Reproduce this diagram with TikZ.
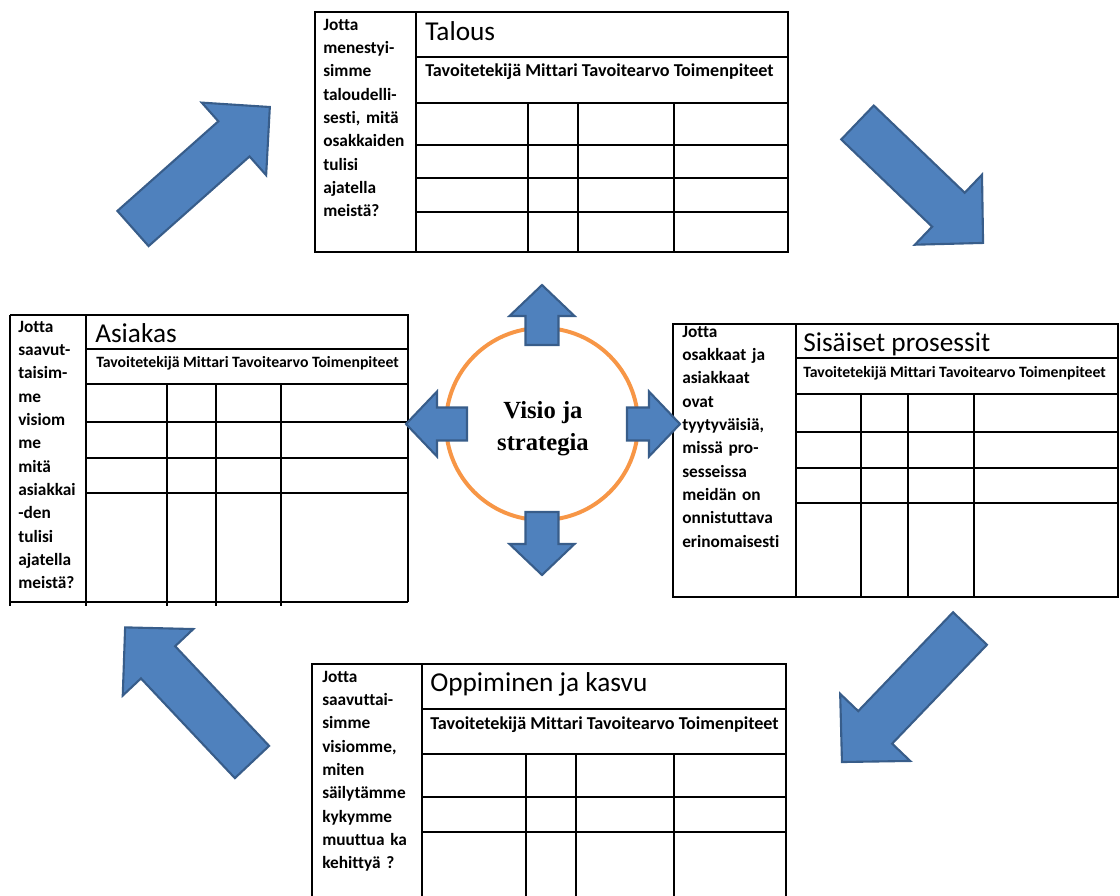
\documentclass[tikz,border=0pt]{standalone}
\usepackage{fontspec}
\setmainfont{Carlito}[Ligatures=CommonOff]
\newfontfamily\visiofont{Liberation Serif}
\usepackage{tikz}
\definecolor{arrowblue}{RGB}{79,129,189}
\definecolor{arrowedge}{RGB}{56,93,138}
\definecolor{visioorange}{RGB}{247,150,70}
\frenchspacing

\begin{document}
\begin{tikzpicture}[x=0.025cm,y=-0.025cm,
  tabline/.style={line width=1.3pt},
  blockarrow/.style={fill=arrowblue,draw=arrowedge,line width=1.5pt,line join=miter},
  question/.style={anchor=base west,inner sep=0pt,text width=3cm,align=left,font=\fontsize{12.3}{16.6}\selectfont\bfseries},
  boxtitle/.style={anchor=base west,inner sep=0pt,font=\fontsize{19.4}{23}\selectfont},
  boxhead/.style={anchor=base west,inner sep=0pt,font=\fontsize{12.9}{15}\selectfont\bfseries},
  smallhead/.style={anchor=base west,inner sep=0pt,font=\fontsize{11.2}{13}\selectfont\bfseries}]

\useasboundingbox (0,0) rectangle (1120,896);

% Talous
\draw[tabline] (315,12) rectangle (788,252);
\draw[tabline] (416,12) -- (416,252);
\draw[tabline] (416,57) -- (788,57);
\draw[tabline] (416,103) -- (788,103);
\foreach \y in {145,178,212} \draw[tabline] (416,\y) -- (788,\y);
\foreach \x in {528,578,674} \draw[tabline] (\x,103) -- (\x,252);
\node[question] (q1) at (323,30) {Jotta\\menestyi-\\simme\\taloudelli-\\sesti, mitä\\osakkaiden\\tulisi\\ajatella\\meistä?};
\node[boxtitle] (t1) at (425,40) {Talous};
\node[boxhead] (h1) at (425,76) {Tavoitetekijä Mittari Tavoitearvo Toimenpiteet};

% Asiakas
\draw[tabline] (10,315) -- (408,315) -- (408,602);
\draw[tabline] (10,602) -- (408,602);
\foreach \x in {10,86} \draw[tabline] (\x,315) -- (\x,606);
\draw[tabline] (86,349) -- (408,349);
\draw[tabline] (86,384) -- (408,384);
\foreach \y in {422,458,493} \draw[tabline] (86,\y) -- (408,\y);
\foreach \x in {167,216,281} \draw[tabline] (\x,384) -- (\x,606);
\node[question] (q2) at (18,332) {Jotta\\saavut-\\taisim-\\me\\visiom\\me\\mitä\\asiakkai\\-den\\tulisi\\ajatella\\meistä?};
\node[boxtitle] (t2) at (95,342) {Asiakas};
\node[smallhead] (h2) at (96,367) {Tavoitetekijä Mittari Tavoitearvo Toimenpiteet};

% Sisäiset prosessit
\draw[tabline] (673,324) rectangle (1118,597);
\draw[tabline] (796,324) -- (796,597);
\draw[tabline] (796,358) -- (1118,358);
\draw[tabline] (796,394) -- (1118,394);
\foreach \y in {432,468,503} \draw[tabline] (796,\y) -- (1118,\y);
\foreach \x in {861,908,974} \draw[tabline] (\x,394) -- (\x,597);
\node[question] (q3) at (682,337) {Jotta\\osakkaat ja\\asiakkaat\\ovat\\tyytyväisiä,\\missä pro-\\sesseissa\\meidän on\\onnistuttava\\erinomaisesti};
\node[boxtitle] (t3) at (803,351) {Sisäiset prosessit};
\node[smallhead] (h3) at (803,377) {Tavoitetekijä Mittari Tavoitearvo Toimenpiteet};

% Oppiminen ja kasvu
\draw[tabline] (312,900) -- (312,664) -- (786,664) -- (786,900);
\draw[tabline] (422,664) -- (422,900);
\draw[tabline] (422,709) -- (786,709);
\draw[tabline] (422,754) -- (786,754);
\foreach \y in {797,832} \draw[tabline] (422,\y) -- (786,\y);
\foreach \x in {526,576,674} \draw[tabline] (\x,754) -- (\x,900);
\node[question] (q4) at (322,682) {Jotta\\saavuttai-\\simme\\visiomme,\\miten\\säilytämme\\kykymme\\muuttua ka\\kehittyä ?};
\node[boxtitle] (t4) at (430,691) {Oppiminen ja kasvu};
\node[boxhead] (h4) at (430,729) {Tavoitetekijä Mittari Tavoitearvo Toimenpiteet};

% visio
\node[circle,draw=visioorange,line width=2.8pt,minimum size=4.8cm,inner sep=0pt] (visio) at (542,424) {};
\node[align=center,inner sep=0pt,font=\visiofont\bfseries\fontsize{17.5}{22.7}\selectfont] (vtext) at (543,429) {Visio ja\\strategia};
\foreach \a/\t/\p in {0/85/138,90/79/139,180/75/136,270/88/151}
  \filldraw[blockarrow,shift={(visio.center)},rotate=\a]
    (\t,-16.5) -- ({\p-31},-16.5) -- ({\p-31},-32.5) -- (\p,0) -- ({\p-31},32.5) -- ({\p-31},16.5) -- (\t,16.5) -- cycle;

% big arrows
\foreach \x/\y/\a/\l in {133/228.5/41.6/183,857.5/122.5/-43.8/174,970/628.5/-133.8/185,252/762/133.3/185}
  \filldraw[blockarrow,shift={(\x,\y)},rotate=\a]
    (0,-23.5) -- ({\l-48},-23.5) -- ({\l-48},-48.5) -- (\l,0) -- ({\l-48},48.5) -- ({\l-48},23.5) -- (0,23.5) -- cycle;

\end{tikzpicture}
\end{document}
